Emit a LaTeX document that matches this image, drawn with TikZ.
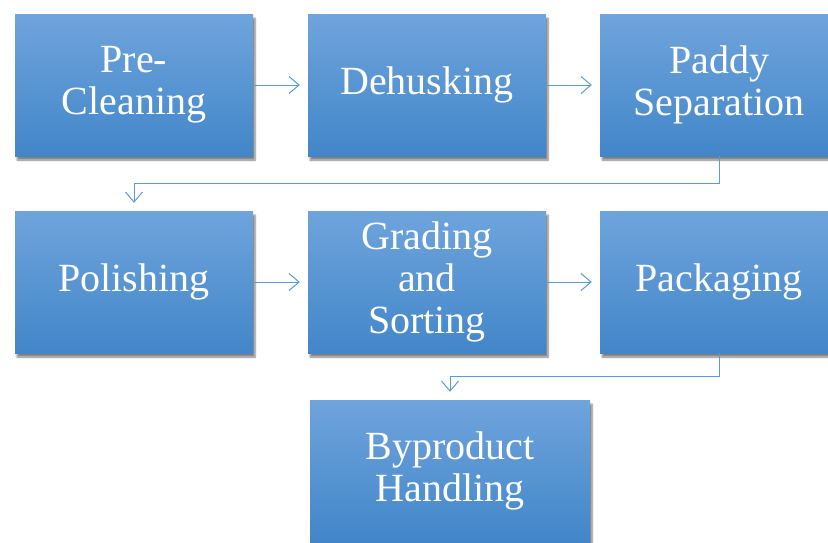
\documentclass[tikz,border=0pt]{standalone}
\usepackage{fontspec}
\setmainfont{Liberation Serif}
\usetikzlibrary{arrows.meta,shadows.blur}

\definecolor{boxtop}{RGB}{111,164,220}
\definecolor{boxbot}{RGB}{66,134,201}
\definecolor{flowline}{RGB}{91,155,213}

\begin{document}
\begin{tikzpicture}[x=1pt,y=-1pt,
    stepbox/.style={rectangle,top color=boxtop,bottom color=boxbot,
      minimum width=238pt,minimum height=142pt,align=center,
      text=white,font=\fontsize{40}{42}\selectfont,inner sep=0pt,
      blur shadow={shadow xshift=2pt,shadow yshift=-4pt,shadow blur steps=6,shadow opacity=50}},
    flow/.style={draw=flowline,line width=1pt,shorten >=8pt,
      -{Straight Barb[length=10pt,width=17pt,line width=1pt]}}]

      \useasboundingbox (0,0) rectangle (828,542);

      \begin{scope}[every node/.style={stepbox}]
        \node (1) at (134,85)  {Pre-\\Cleaning};
        \node (2) at (427,85)  {Dehusking};
        \node (3) at (719,85)  {Paddy\\Separation};
        \node (4) at (134,282) {Polishing};
        \node (5) at (427,282) {Grading\\and\\Sorting};
        \node (6) at (719,282) {Packaging};
        \node[minimum width=280pt] (7) at (450,471) {Byproduct\\Handling};
      \end{scope}

      \path[flow] (1) -- (2);
      \path[flow] (2) -- (3);
      \path[flow] (3.south) -- ++(0,27) -| (4.north);
      \path[flow] (4) -- (5);
      \path[flow] (5) -- (6);
      \path[flow] (6.south) -- ++(0,23) -| (7.north);

    \end{tikzpicture}
\end{document}
